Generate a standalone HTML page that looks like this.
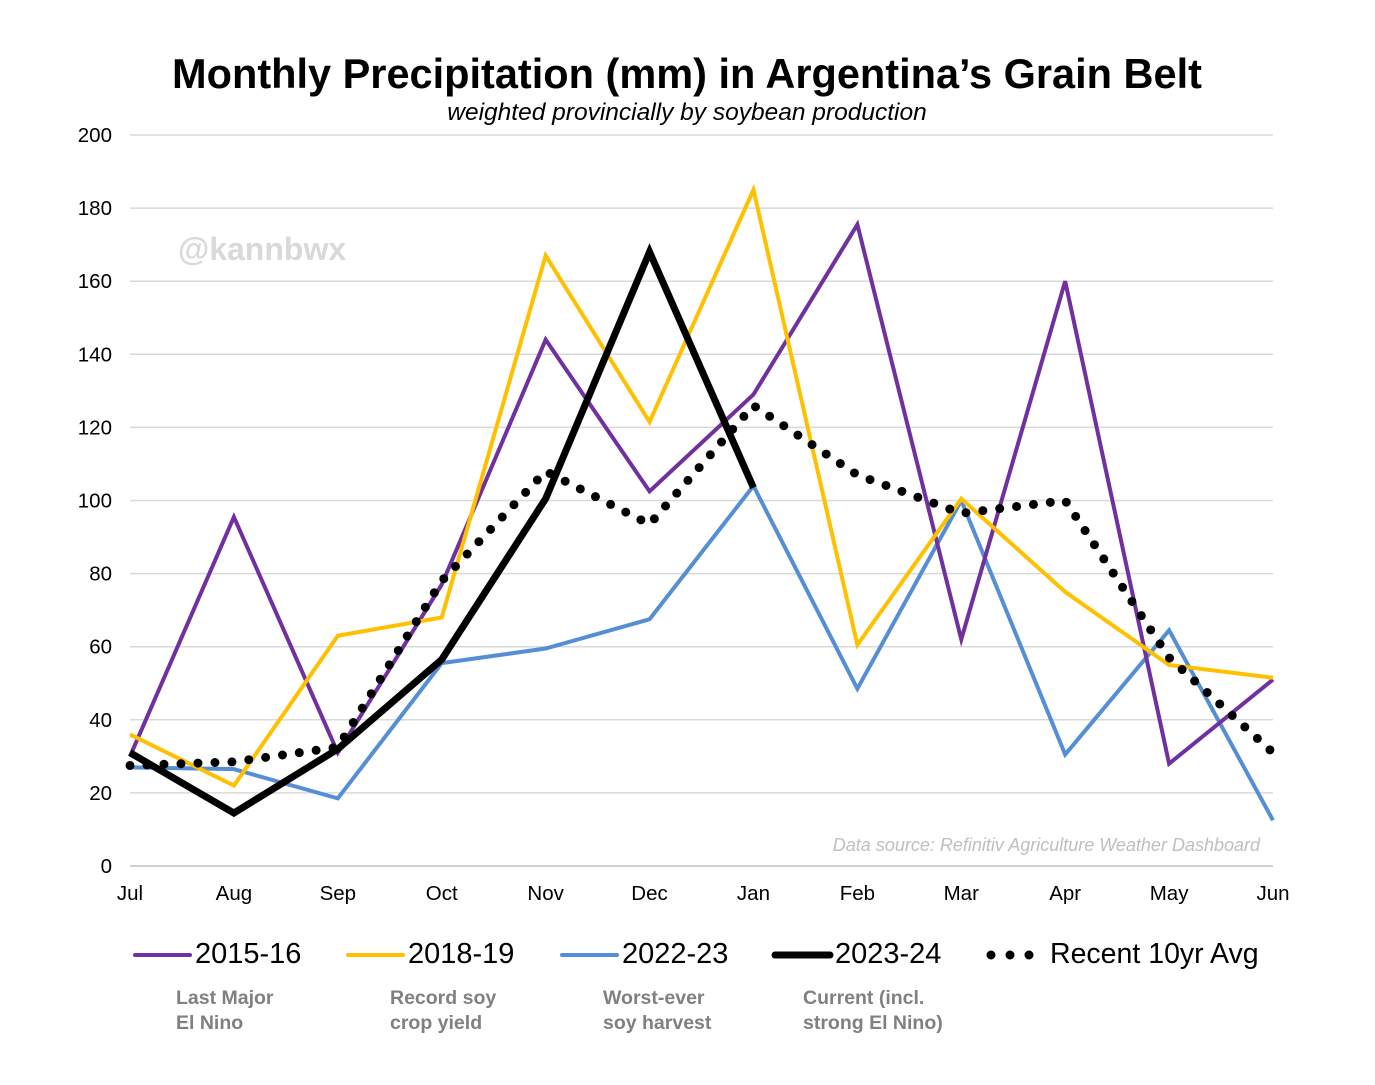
<!DOCTYPE html>
<html><head><meta charset="utf-8"><style>
body{margin:0;background:#fff;}
svg{display:block;font-family:"Liberation Sans",Arial,sans-serif;}
</style></head><body>
<svg id="chart" width="1375" height="1085">
<text x="687" y="88" text-anchor="middle" font-size="41.5" font-weight="bold" fill="#000">Monthly Precipitation (mm) in Argentina’s Grain Belt</text>
<text x="687" y="120" text-anchor="middle" font-size="24.5" font-style="italic" fill="#000">weighted provincially by soybean production</text>
<text x="178" y="260" font-size="32" font-weight="bold" fill="#d9d9d9">@kannbwx</text>
<text x="1260" y="851" text-anchor="end" font-size="18" font-style="italic" fill="#bfbfbf">Data source: Refinitiv Agriculture Weather Dashboard</text>
<g id="grid"></g><g id="series"></g><g id="legend"></g>
</svg>
<script>
const months=["Jul","Aug","Sep","Oct","Nov","Dec","Jan","Feb","Mar","Apr","May","Jun"];
const yTicks=[0,20,40,60,80,100,120,140,160,180,200];
const s2015=[30,95.5,31,77,144,102.5,129,175.5,62,160,28,51];
const s2018=[36,22,63,68,167,121.5,185,60.5,100.5,75,55,51.5];
const s2022=[27,26.5,18.5,55.5,59.5,67.5,104,48.5,100,30.5,64.5,12.5];
const s2023=[31,14.5,32,56.5,100.5,168,103.5];
const sAvg=[27.5,28.5,32.5,78,108,93.5,126,107,96.5,100,57,31];
const NS="http://www.w3.org/2000/svg";
const x0=130,x1=1273,y0=866,y1=135;
const xs=i=>x0+i*(x1-x0)/(months.length-1);
const ys=v=>y0-v*(y0-y1)/200;
function mk(t,a,p){const e=document.createElementNS(NS,t);for(const k in a)e.setAttribute(k,a[k]);p.appendChild(e);return e;}
const g=document.getElementById('grid');
yTicks.forEach(v=>{
 const l=mk('line',{x1:x0,x2:x1,y1:ys(v),y2:ys(v),stroke:v===0?'#bfbfbf':'#d9d9d9','stroke-width':1.5},g);
 
 
 const t=mk('text',{x:112,y:ys(v)+7,'text-anchor':'end','font-size':20.5},g);t.textContent=v;
 
 
});
months.forEach((m,i)=>{
 const t=mk('text',{x:xs(i),y:900,'text-anchor':'middle','font-size':20.5},g);t.textContent=m;
 
 
});
const sg=document.getElementById('series');
function line(data,color,w,name,dash){
 const pts=data.map((v,i)=>xs(i)+','+ys(v)).join(' ');
 const a={points:pts,fill:'none',stroke:color,'stroke-width':w,'stroke-linejoin':'miter'};
 if(dash){a['stroke-dasharray']='0 17';a['stroke-linecap']='round';}
 const p=mk('polyline',a,sg);
 
 
}
line(s2022,'#558ed5',4,'series-2022-23');
line(s2015,'#7030a0',4,'series-2015-16');
line(s2018,'#ffc000',4,'series-2018-19');
line(s2023,'#000',7,'series-2023-24');
line(sAvg,'#000',9,'series-10yr-avg',true);
const lg=document.getElementById('legend');
const items=[["2015-16","#7030a0",135,4],["2018-19","#ffc000",348,4],["2022-23","#558ed5",562,4],["2023-24","#000",775,7]];
items.forEach(([n,c,x,w])=>{
 const l=mk('line',{x1:x,x2:x+55,y1:955,y2:955,stroke:c,'stroke-width':w,'stroke-linecap':'round'},lg);
 
 
 const t=mk('text',{x:x+60,y:963,'font-size':29},lg);t.textContent=n;
 
 
});
const dl=mk('line',{x1:991,x2:1031,y1:955,y2:955,stroke:'#000','stroke-width':9,'stroke-linecap':'round','stroke-dasharray':'0 19'},lg);


const dt=mk('text',{x:1050,y:963,'font-size':28.5},lg);dt.textContent='Recent 10yr Avg';


const notes=[[176,"Last Major","El Nino"],[390,"Record soy","crop yield"],[603,"Worst-ever","soy harvest"],[803,"Current (incl.","strong El Nino)"]];
notes.forEach(([x,a,b],i)=>{
 const t=mk('text',{x:x,y:1004,'font-size':19.5,'font-weight':'bold',fill:'#808080'},lg);t.textContent=a;
 
 
 const t2=mk('text',{x:x,y:1029,'font-size':19.5,'font-weight':'bold',fill:'#808080'},lg);t2.textContent=b;
 
 
});
</script>
</body></html>
